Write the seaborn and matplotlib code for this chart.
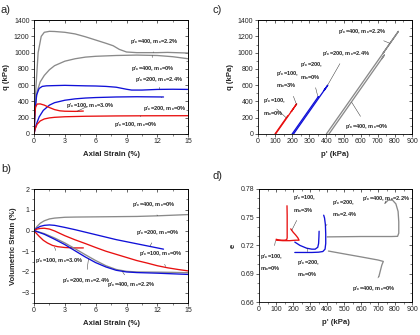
import numpy as np
import pandas as pd
import matplotlib
matplotlib.use("Agg")
import matplotlib.pyplot as plt
from matplotlib.ticker import MultipleLocator, FormatStrFormatter
import seaborn as sns

sns.set_theme(style="ticks")
plt.rcParams['font.family'] = ['Liberation Sans', 'DejaVu Sans']
plt.rcParams['mathtext.default'] = 'regular'

GRAY = '#8a8a8a'
BLUE = '#1010d8'
RED = '#e81010'

# ---- a) q vs axial strain ----
g22_ea = [0, 0.15, 0.4, 0.7, 1.0, 1.5, 2, 3, 4, 5, 6, 7, 7.7, 8.3, 9, 10, 12, 13, 15]
g22_q = [0, 500, 1000, 1200, 1250, 1262, 1260, 1250, 1230, 1195, 1155, 1115, 1085, 1040, 1008, 1000, 1000, 1003, 995]
g0_ea = [0, 0.1, 0.3, 0.6, 1, 1.5, 2, 3, 4, 5, 6, 8, 10, 12, 13.5, 15]
g0_q = [0, 300, 520, 640, 720, 790, 840, 895, 925, 945, 955, 965, 970, 965, 950, 925]
b24_ea = [0, 0.1, 0.25, 0.5, 0.8, 1.2, 2, 3, 4, 5, 6, 7, 8, 9, 9.5, 10.5, 12, 13.5, 15]
b24_q = [0, 280, 480, 560, 585, 592, 595, 598, 595, 592, 590, 585, 575, 550, 540, 540, 548, 550, 548]
b0_ea = [0, 0.2, 0.5, 0.9, 1.5, 2, 3, 4, 5, 6, 8, 10, 12.6]
b0_q = [0, 110, 210, 290, 355, 385, 415, 432, 442, 448, 455, 458, 455]
r3_ea = [0, 0.05, 0.15, 0.3, 0.6, 1, 1.5, 2, 2.5, 3, 4, 4.8]
r3_q = [0, 200, 330, 368, 370, 355, 325, 300, 285, 280, 278, 282]
r0_ea = [0, 0.1, 0.3, 0.6, 1, 1.5, 2, 3, 5, 8, 11, 15]
r0_q = [0, 60, 120, 160, 185, 198, 205, 212, 218, 222, 224, 225]

# ---- b) volumetric strain vs axial strain ----
gv0_ea = [0, 0.3, 0.6, 1, 1.5, 2, 3, 4, 6, 8, 10, 12, 13.5, 15]
gv0_ev = [0, 0.2, 0.35, 0.47, 0.56, 0.6, 0.64, 0.65, 0.66, 0.67, 0.68, 0.71, 0.74, 0.77]
bv0_ea = [0, 0.3, 0.6, 1, 1.5, 2, 3, 4, 5, 6, 7, 8, 9, 10, 11, 12, 12.6]
bv0_ev = [0, 0.12, 0.2, 0.25, 0.27, 0.25, 0.15, 0.04, -0.08, -0.2, -0.32, -0.44, -0.54, -0.64, -0.74, -0.84, -0.9]
rv0_ea = [0, 0.3, 0.6, 1, 1.5, 2, 3, 4, 5, 6, 7, 8, 9, 10, 11, 12, 13, 14, 15]
rv0_ev = [0, 0.07, 0.1, 0.11, 0.07, -0.02, -0.25, -0.45, -0.63, -0.82, -1.0, -1.15, -1.3, -1.45, -1.57, -1.7, -1.8, -1.88, -1.95]
rv3_ea = [0, 0.2, 0.5, 0.9, 1.3, 1.8, 2.3, 3, 4, 4.8]
rv3_ev = [0, -0.12, -0.28, -0.47, -0.6, -0.72, -0.78, -0.82, -0.84, -0.84]
bv24_ea = [0, 1, 2, 3, 4, 5, 6, 7, 8, 9, 10, 12, 13.5, 15]
bv24_ev = [0, -0.18, -0.42, -0.68, -0.98, -1.28, -1.55, -1.76, -1.92, -2.0, -2.03, -2.06, -2.09, -2.12]
gv22_ea = [0, 1, 2, 3, 4, 5, 6, 7, 8, 9, 10, 12, 13.5, 15]
gv22_ev = [0, -0.15, -0.36, -0.6, -0.88, -1.17, -1.45, -1.7, -1.88, -1.97, -2.0, -2.01, -2.02, -2.04]

# ---- c) start p' of each test (q from panel a, drained path p' = p'0 + q/3) ----
p0 = {'r0': 100, 'r3': 103, 'b0': 200, 'b24': 208, 'g0': 415, 'g22': 400}

# ---- d) void ratio vs p' ----
dr0_p = [100, 110, 130, 150, 162, 165, 165, 165, 164]
dr0_e = [0.7265, 0.726, 0.7255, 0.7255, 0.726, 0.728, 0.737, 0.752, 0.762]
dr3_p = [100, 140, 180, 215, 235, 228, 215, 200, 186]
dr3_e = [0.7255, 0.725, 0.725, 0.7255, 0.7255, 0.728, 0.731, 0.734, 0.7375]
db0_p = [210, 240, 280, 310, 330, 345, 350, 352, 353]
db0_e = [0.7235, 0.720, 0.717, 0.716, 0.716, 0.718, 0.722, 0.729, 0.735]
db24_p = [210, 260, 310, 350, 375, 388, 392, 392, 390, 385, 380]
db24_e = [0.7125, 0.7125, 0.7125, 0.7128, 0.7135, 0.716, 0.722, 0.732, 0.742, 0.749, 0.752]
dg22_p = [400, 500, 600, 700, 780, 815, 822, 822, 818, 805, 785, 760, 740]
dg22_e = [0.729, 0.7292, 0.7294, 0.7294, 0.7294, 0.7296, 0.733, 0.745, 0.756, 0.764, 0.768, 0.768, 0.7645]
dg0_p = [408, 500, 600, 700, 731, 722, 712, 705]
dg0_e = [0.714, 0.711, 0.7078, 0.7045, 0.703, 0.699, 0.692, 0.687]

fig = plt.figure(figsize=(4.2, 3.35), dpi=100)
axa = fig.add_axes([0.081, 0.600, 0.367, 0.340])
axc = fig.add_axes([0.614, 0.600, 0.367, 0.340])
axb = fig.add_axes([0.081, 0.0955, 0.367, 0.340])
axd = fig.add_axes([0.617, 0.0985, 0.364, 0.338])


def curve(ax, x, y, color):
    sns.lineplot(x=x, y=y, ax=ax, color=color, lw=0.95, sort=False, estimator=None)


def note(ax, txt, xytext, xy=None):
    kw = dict(fontsize=4.1, fontweight='bold', ha='left', va='center', linespacing=1.6)
    if xy is None:
        ax.text(xytext[0], xytext[1], txt, **kw)
    else:
        ax.annotate(txt, xy=xy, xytext=xytext, textcoords='data',
                    arrowprops=dict(arrowstyle='-', lw=0.35, color='#333333',
                                    shrinkA=2, shrinkB=0), **kw)


def style(ax, xmaj, xmin, ymaj, ymin, xlim, ylim, xlabel, ylabel):
    ax.set_xlim(*xlim)
    ax.set_ylim(*ylim)
    ax.xaxis.set_major_locator(MultipleLocator(xmaj))
    ax.xaxis.set_minor_locator(MultipleLocator(xmin))
    ax.yaxis.set_major_locator(MultipleLocator(ymaj))
    ax.yaxis.set_minor_locator(MultipleLocator(ymin))
    ax.tick_params(which='major', direction='out', length=2.2, width=0.5, labelsize=5, pad=1)
    ax.tick_params(which='minor', direction='out', length=1.2, width=0.4)
    for s in ax.spines.values():
        s.set_linewidth(0.6)
        s.set_color('black')
    # mirrored inward ticks on top and right
    sec = ax.secondary_xaxis('top')
    sec.xaxis.set_major_locator(MultipleLocator(xmaj))
    sec.xaxis.set_minor_locator(MultipleLocator(xmin))
    sec.tick_params(which='major', direction='in', length=2.0, width=0.5, labeltop=False)
    sec.tick_params(which='minor', direction='in', length=1.1, width=0.4)
    sec.spines['top'].set_linewidth(0.6)
    sec = ax.secondary_yaxis('right')
    sec.yaxis.set_major_locator(MultipleLocator(ymaj))
    sec.yaxis.set_minor_locator(MultipleLocator(ymin))
    sec.tick_params(which='major', direction='in', length=2.0, width=0.5, labelright=False)
    sec.tick_params(which='minor', direction='in', length=1.1, width=0.4)
    sec.spines['right'].set_linewidth(0.6)
    ax.set_xlabel(xlabel, fontsize=5.6, fontweight='bold', labelpad=4)
    ax.set_ylabel(ylabel, fontsize=5.6, fontweight='bold', labelpad=3)


# panel a
curve(axa, g22_ea, g22_q, GRAY)
curve(axa, g0_ea, g0_q, GRAY)
curve(axa, b24_ea, b24_q, BLUE)
curve(axa, b0_ea, b0_q, BLUE)
curve(axa, r3_ea, r3_q, RED)
curve(axa, r0_ea, r0_q, RED)
style(axa, 3, 1.5, 200, 100, (0, 15), (0, 1400), 'Axial Strain (%)', 'q (kPa)')
note(axa, "p'$_c$=400, m$_c$=2.2%", (9.3, 1140), (11.6, 1003))
note(axa, "p'$_c$=400, m$_c$=0%", (9.4, 810), (11.5, 965))
note(axa, "p'$_c$=200, m$_c$=2.4%", (9.8, 670), (12.2, 548))
note(axa, "p'$_c$=100, m$_c$=3.0%", (3.1, 355), (4.2, 280))
note(axa, "p'$_c$=200, m$_c$=0%", (10.6, 318), (12.4, 454))
note(axa, "p'$_c$=100, m$_c$=0%", (7.8, 118), (10.4, 224))

# panel c
for key, qq, col in [('g22', g22_q, GRAY), ('g0', g0_q, GRAY), ('b24', b24_q, BLUE),
                     ('b0', b0_q, BLUE), ('r3', r3_q, RED), ('r0', r0_q, RED)]:
    qv = np.array(qq, dtype=float)
    curve(axc, p0[key] + qv / 3.0, qv, col)
style(axc, 100, 50, 200, 100, (0, 900), (0, 1400), "p' (kPa)", 'q (kPa)')
note(axc, "p'$_c$=400, m$_c$=2.2%", (470, 1255), (771, 1114))
note(axc, "p'$_c$=200, m$_c$=2.4%", (372, 990), (407, 600))
note(axc, "p'$_c$=200,\nm$_c$=0%", (245, 775), (349, 470))
note(axc, "p'$_c$=100,\nm$_c$=3%", (103, 668), (226, 360))
note(axc, "p'$_c$=100,\nm$_c$=0%", (31, 330), (165, 200))
note(axc, "p'$_c$=400, m$_c$=0%", (509, 92), (548, 389))

# panel b
curve(axb, gv0_ea, gv0_ev, GRAY)
curve(axb, bv0_ea, bv0_ev, BLUE)
curve(axb, rv0_ea, rv0_ev, RED)
curve(axb, rv3_ea, rv3_ev, RED)
curve(axb, gv22_ea, gv22_ev, GRAY)
curve(axb, bv24_ea, bv24_ev, BLUE)
style(axb, 3, 1.5, 1, 0.5, (0, 15), (-3.5, 2), 'Axial Strain (%)', 'Volumetric Strain (%)')
note(axb, "p'$_c$=400, m$_c$=0%", (9.5, 1.26), (12.0, 0.71))
note(axb, "p'$_c$=200, m$_c$=0%", (9.9, -0.1), (11.3, -0.74))
note(axb, "p'$_c$=100, m$_c$=0%", (10.2, -1.13), (12.8, -1.74))
note(axb, "p'$_c$=100, m$_c$=3.0%", (0.1, -1.47), (2.0, -0.8))
note(axb, "p'$_c$=200, m$_c$=2.4%", (2.7, -2.39), (5.3, -1.36))
note(axb, "p'$_c$=400, m$_c$=2.2%", (7.1, -2.63), (8.6, -1.98))

# panel d
curve(axd, dr0_p, dr0_e, RED)
curve(axd, dr3_p, dr3_e, RED)
curve(axd, db0_p, db0_e, BLUE)
curve(axd, db24_p, db24_e, BLUE)
curve(axd, dg22_p, dg22_e, GRAY)
curve(axd, dg0_p, dg0_e, GRAY)
style(axd, 100, 50, 0.03, 0.01, (0, 900), (0.66, 0.78), "p' (kPa)", 'e')
axd.yaxis.set_major_formatter(FormatStrFormatter('%.2f'))
note(axd, "p'$_c$=100,\nm$_c$=3%", (202, 0.764), (192, 0.736))
note(axd, "p'$_c$=200,\nm$_c$=2.4%", (428, 0.759), (393, 0.741))
note(axd, "p'$_c$=400, m$_c$=2.2%", (604, 0.770), (742, 0.765))
note(axd, "p'$_c$=100,\nm$_c$=0%", (6, 0.702), (96, 0.725))
note(axd, "p'$_c$=200,\nm$_c$=0%", (225, 0.6955), (283, 0.717))
note(axd, "p'$_c$=400, m$_c$=0%", (545, 0.6745), (703, 0.687))

for txt, x, y in [('a)', 0.002, 0.970), ('c)', 0.505, 0.970), ('b)', 0.002, 0.495), ('d)', 0.505, 0.476)]:
    fig.text(x, y, txt, fontsize=8, ha='left', va='center')

fig.savefig('out.png', dpi=100)
